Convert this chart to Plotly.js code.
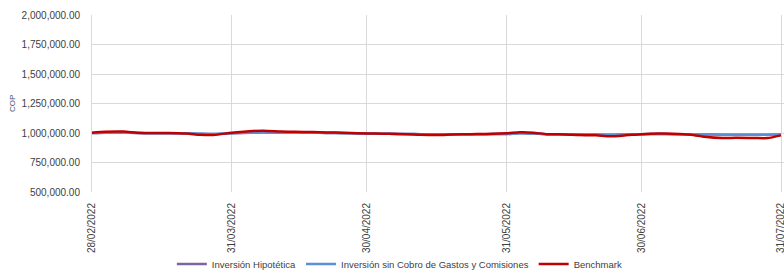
<!DOCTYPE html>
<html><head><meta charset="utf-8">
<script src="https://cdn.plot.ly/plotly-3.0.1.min.js"></script>
<style>html,body{margin:0;padding:0;overflow:hidden;background:#fff}#chart{width:784px;height:273px}</style>
</head><body><div id="chart"></div>
<script>
const dates = ["2022-02-28","2022-03-03","2022-03-07","2022-03-10","2022-03-14","2022-03-17","2022-03-21","2022-03-24","2022-03-27","2022-03-31",
"2022-04-04","2022-04-07","2022-04-11","2022-04-14","2022-04-18","2022-04-21","2022-04-25","2022-04-28",
"2022-05-02","2022-05-05","2022-05-09","2022-05-12","2022-05-16","2022-05-19","2022-05-23","2022-05-26","2022-05-31",
"2022-06-03","2022-06-06","2022-06-09","2022-06-13","2022-06-16","2022-06-20","2022-06-23","2022-06-27","2022-06-30",
"2022-07-04","2022-07-07","2022-07-11","2022-07-14","2022-07-18","2022-07-21","2022-07-25","2022-07-28","2022-07-31"];
const hipotetica = [1000000,1003000,1003000,1000000,998000,998000,997000,993000,992000,998000,
1003000,1005000,1003000,1002000,1002000,1000000,998000,996000,
994000,993000,991000,990000,989000,990000,990000,990000,992000,
997000,995000,990000,989000,988000,987000,985000,988000,990000,
991000,990000,988000,987000,986000,986000,986000,986000,988000];
const sinCobro = [1000000,1003000,1003000,1000000,998000,998000,997000,993000,992000,998000,
1003000,1005000,1003000,1002000,1002000,1000000,998000,996000,
994000,993000,991000,990000,989000,990000,990000,990000,992000,
997000,995000,990000,989000,988000,987000,985000,988000,990000,
991000,990000,988000,987000,986000,986000,986000,986000,988000];
const benchmark = [1002000,1010000,1012000,1003000,1000000,1000000,995000,985000,983000,1002000,
1015000,1020000,1013000,1010000,1008000,1005000,1002000,998000,
995000,993000,990000,985000,983000,988000,990000,992000,997000,
1006000,1003000,990000,988000,983000,980000,972000,982000,990000,
995000,993000,985000,968000,957000,960000,958000,957000,980000];
const tickDates = ["2022-02-28","2022-03-31","2022-04-30","2022-05-31","2022-06-30","2022-07-31"];
const tickText = ["28/02/2022","31/03/2022","30/04/2022","31/05/2022","30/06/2022","31/07/2022"];
const yTicks = [500000,750000,1000000,1250000,1500000,1750000,2000000];

const F = "Liberation Sans, Arial, sans-serif";
const traces = [
 {x:dates,y:hipotetica,name:"Inversión Hipotética",type:"scatter",mode:"lines",line:{color:"#8064A2",width:2.5,shape:"spline",smoothing:0.6}},
 {x:dates,y:sinCobro,name:"Inversión sin Cobro de Gastos y Comisiones",type:"scatter",mode:"lines",line:{color:"#5B8FD8",width:2.5,shape:"spline",smoothing:0.6}},
 {x:dates,y:benchmark,name:"Benchmark",type:"scatter",mode:"lines",line:{color:"#C00000",width:2.5,shape:"spline",smoothing:0.6}}
];
const layout = {
 width:784,height:273,
 margin:{l:92,r:0,t:15,b:81},
 paper_bgcolor:"#fff",plot_bgcolor:"#fff",
 font:{family:F,size:10,color:"#404040"},
 showlegend:true,
 legend:{orientation:"h",x:0.51,xref:"container",xanchor:"center",yref:"container",y:0.033,yanchor:"middle",bgcolor:"rgba(0,0,0,0)",
   font:{family:F,size:9.5,color:"#404040"},itemwidth:30,traceorder:"normal"},
 xaxis:{type:"date",range:["2022-02-28","2022-07-31 16:00"],tickmode:"array",tickvals:tickDates,ticktext:tickText,tickangle:-90,automargin:false,
   ticklabeloverflow:"allow",
   showgrid:true,gridcolor:"#D9D9D9",gridwidth:1,showline:false,zeroline:false,ticks:"outside",ticklen:6,tickcolor:"rgba(0,0,0,0)",
   tickfont:{family:F,size:10,color:"#404040"}},
 yaxis:{range:[500000,2000000],tickmode:"array",tickvals:yTicks,tickformat:",.2f",showgrid:true,gridcolor:"#D9D9D9",gridwidth:1,automargin:false,
   zeroline:false,showline:true,linecolor:"#D9D9D9",ticks:"outside",ticklen:9,tickcolor:"rgba(0,0,0,0)",
   tickfont:{family:F,size:10,color:"#404040"}},
 annotations:[{text:"COP",xref:"paper",yref:"paper",x:-0.115,y:0.5,xanchor:"center",yanchor:"middle",textangle:-90,showarrow:false,
   font:{family:F,size:8,color:"#44546A"}}]
};
Plotly.newPlot("chart",traces,layout,{staticPlot:true,displayModeBar:false});
</script></body></html>
